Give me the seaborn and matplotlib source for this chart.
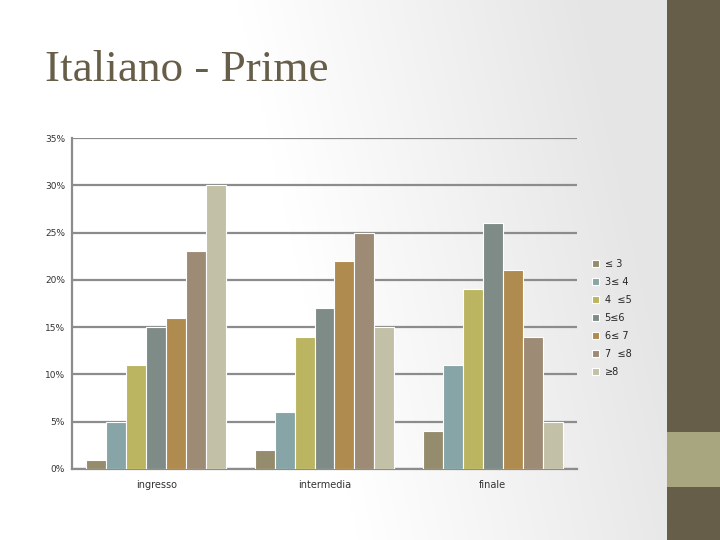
import numpy as np
import pandas as pd
import matplotlib
matplotlib.use("Agg")
import matplotlib.pyplot as plt
from matplotlib.patches import Rectangle
from matplotlib.ticker import FuncFormatter
import seaborn as sns

phases = ["ingresso", "intermedia", "finale"]
categories = ["≤ 3", "3≤ 4", "4  ≤5", "5≤6", "6≤ 7", "7  ≤8", "≥8"]
v_le3 = [1, 2, 4]
v_3_4 = [5, 6, 11]
v_4_5 = [11, 14, 19]
v_5_6 = [15, 17, 26]
v_6_7 = [16, 22, 21]
v_7_8 = [23, 25, 14]
v_ge8 = [30, 15, 5]
series = [v_le3, v_3_4, v_4_5, v_5_6, v_6_7, v_7_8, v_ge8]
colors = ["#958C6E", "#87A5A6", "#BBB460", "#7F8B86", "#B08B4F", "#9D8B76", "#C3C0A8"]
yticks = [0, 5, 10, 15, 20, 25, 30, 35]

rows = []
for cat, vals in zip(categories, series):
    for ph, v in zip(phases, vals):
        rows.append({"fase": ph, "cat": cat, "val": v})
df = pd.DataFrame(rows)

sns.set_theme(style="white")
plt.rcParams['font.family'] = ['DejaVu Sans']

fig = plt.figure(figsize=(7.2, 5.4), dpi=100)

# background gradient (white on the left, light grey toward the upper right)
bg = fig.add_axes([0, 0, 1, 1], zorder=-10)
xx, yy = np.meshgrid(np.linspace(0, 1, 200), np.linspace(0, 1, 200))
t = np.clip((xx - 0.45) / 0.48 + 0.35 * (yy - 0.3), 0, 1)
grad = 1.0 - 0.10 * t
bg.imshow(np.dstack([grad, grad, grad]), extent=[0, 1, 0, 1], origin="lower",
          aspect="auto", interpolation="bilinear")
bg.set_xlim(0, 1); bg.set_ylim(0, 1); bg.axis("off")

# right decorative band
fig.patches.append(Rectangle((667/720, 0), 53/720, 1, transform=fig.transFigure,
                             facecolor="#665E48", edgecolor="none", zorder=-5))
fig.patches.append(Rectangle((667/720, (540-487)/540), 53/720, 55/540, transform=fig.transFigure,
                             facecolor="#A8A67E", edgecolor="none", zorder=-4))

fig.text(45/720, 1 - 70/540, "Italiano - Prime", fontsize=32.5, color="#665E48",
         family="Liberation Serif", va="center", ha="left")

ax = fig.add_axes([72/720, (540-469)/540, (577-72)/720, (469-138)/540])
ax.patch.set_alpha(0)
sns.barplot(data=df, x="fase", y="val", hue="cat", palette=colors, width=0.83,
            saturation=1, edgecolor="white", linewidth=0.8, ax=ax, zorder=3)
ax.set_ylim(0, 35)
ax.set_yticks(yticks)
ax.yaxis.set_major_formatter(FuncFormatter(lambda v, p: f"{int(v)}%"))
ax.set_xlim(-0.5, 2.5)
ax.grid(axis="y", color="#8C8C8C", linewidth=1.6, zorder=0)
ax.set_axisbelow(True)
for s in ["top", "right"]:
    ax.spines[s].set_visible(False)
for s in ["left", "bottom"]:
    ax.spines[s].set_color("#8C8C8C")
    ax.spines[s].set_linewidth(1.6)
ax.tick_params(axis="y", length=4, width=1.2, color="#8C8C8C", labelsize=6.5, pad=1, labelcolor="#333333")
ax.tick_params(axis="x", length=0, labelsize=7, pad=8, labelcolor="#333333")
ax.set_xlabel(""); ax.set_ylabel("")
ax.set_xticks([-0.5, 0.5, 1.5, 2.5], minor=True)
ax.tick_params(axis="x", which="minor", length=4, width=1, color="#8C8C8C")

handles, labels = ax.get_legend_handles_labels()
ax.get_legend().remove()
fig.legend(handles, labels, loc="upper left", bbox_to_anchor=(588/720, 1 - 255/540),
           frameon=False, fontsize=7, handlelength=0.7, handleheight=0.7,
           labelspacing=0.82, handletextpad=0.6, borderaxespad=0)

fig.savefig("out.png", dpi=100)
